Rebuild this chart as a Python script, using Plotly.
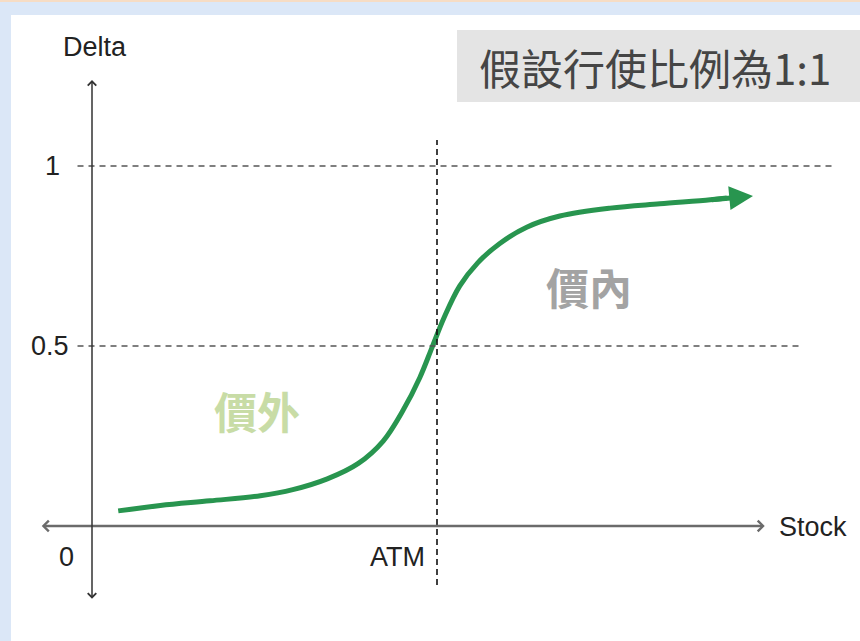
import plotly.graph_objects as go

# ---- data ----
stock = [3.8, 9.9, 17.1, 24.4, 29.1, 34.1, 38.6, 42.2, 45.1, 47.5, 49.3, 51.0, 53.3, 55.9,
         59.1, 63.0, 67.8, 75.1, 82.3, 89.6, 92.0, 95.8]
delta = [0.042, 0.057, 0.070, 0.084, 0.101, 0.131, 0.174, 0.236, 0.322, 0.412, 0.497, 0.578, 0.667, 0.731,
         0.785, 0.830, 0.861, 0.883, 0.895, 0.906, 0.911, 0.917]
atm = 50.0
ref_levels = [1.0, 0.5]
tick_labels = ["1", "0.5"]
title_text = "假設行使比例為1:1"
itm_text = "價內"
otm_text = "價外"

GREEN = "#28954f"
LATIN = "Liberation Sans, Arial, sans-serif"
CJK = "Noto Sans CJK TC, Noto Sans CJK SC, sans-serif"

fig = go.Figure()

# curve (the arrowhead covers the final segment)
fig.add_trace(go.Scatter(x=stock[:-1], y=delta[:-1], mode="lines",
                         line=dict(color=GREEN, width=5, shape="spline", smoothing=1.0),
                         hoverinfo="skip", showlegend=False))

shapes = []
# white inner panel over light-blue page
shapes.append(dict(type="rect", xref="paper", yref="paper", x0=11/860, x1=1, y0=0, y1=1-15/641,
                   fillcolor="white", line=dict(width=0), layer="below"))
shapes.append(dict(type="rect", xref="paper", yref="paper", x0=0, x1=1, y0=1-2/641, y1=1,
                   fillcolor="#f6dcc4", line=dict(width=0), layer="below"))
# title box
shapes.append(dict(type="rect", xref="paper", yref="paper", x0=457/860, x1=1, y0=1-102/641, y1=1-30/641,
                   fillcolor="#e4e4e4", line=dict(width=0), layer="below"))
# dashed reference levels
ends = [107.7, 103.0]
for lv, xe in zip(ref_levels, ends):
    shapes.append(dict(type="line", xref="x", yref="y", x0=-2.1, x1=xe, y0=lv, y1=lv,
                       line=dict(color="#555555", width=1.6, dash="6px,5px")))
# ATM dashed vertical
shapes.append(dict(type="line", xref="x", yref="y", x0=atm, x1=atm, y0=-0.164, y1=1.072,
                   line=dict(color="#111111", width=1.6, dash="6px,4px")))

annotations = []
# axes with arrowheads at both ends
annotations.append(dict(x=97.5, y=0, ax=-7.5, ay=0, xref="x", yref="y", axref="x", ayref="y",
                        text="", showarrow=True, arrowhead=4, startarrowhead=4, arrowside="end+start",
                        arrowwidth=2.6, arrowsize=0.8, startarrowsize=0.8, arrowcolor="#6b6b6b"))
annotations.append(dict(x=0, y=1.239, ax=0, ay=-0.206, xref="x", yref="y", axref="x", ayref="y",
                        text="", showarrow=True, arrowhead=4, startarrowhead=4, arrowside="end+start",
                        arrowwidth=1.5, arrowsize=1.1, startarrowsize=1.1, arrowcolor="#333333"))
# curve arrowhead
annotations.append(dict(x=stock[-1], y=delta[-1], ax=stock[-3], ay=delta[-3], xref="x", yref="y",
                        axref="x", ayref="y", text="", showarrow=True, arrowhead=2, arrowwidth=5,
                        arrowsize=0.95, arrowcolor=GREEN))

lab = dict(family=LATIN, size=27, color="#222222")
annotations += [
    dict(x=0.43, y=1.331, text="Delta", showarrow=False, font=lab, xanchor="center", yanchor="middle"),
    dict(x=99.3, y=-0.003, text="Stock", showarrow=False, font=lab, xanchor="left", yanchor="middle"),
    dict(x=48.5, y=-0.086, text="ATM", showarrow=False, font=lab, xanchor="right", yanchor="middle"),
    dict(x=-2.3, y=-0.086, text="0", showarrow=False, font=lab, xanchor="right", yanchor="middle"),
]
label_x = [-4.4, -3.0]
for lv, t, lx in zip(ref_levels, tick_labels, label_x):
    annotations.append(dict(x=lx, y=lv, text=t, showarrow=False, font=lab, xanchor="right", yanchor="middle"))

annotations.append(dict(xref="paper", yref="paper", x=655/860, y=1-66/641, text=title_text, showarrow=False,
                        font=dict(family=CJK, size=42, color="#454545"), xanchor="center", yanchor="middle"))
annotations.append(dict(x=72.0, y=0.667, text="<b>" + itm_text + "</b>", showarrow=False,
                        font=dict(family=CJK, size=43, color="#a3a3a3"), xanchor="center", yanchor="middle"))
annotations.append(dict(x=23.9, y=0.322, text="<b>" + otm_text + "</b>", showarrow=False,
                        font=dict(family=CJK, size=43, color="#c8dca6"), xanchor="center", yanchor="middle"))

fig.update_layout(
    width=860, height=641,
    margin=dict(l=0, r=0, t=0, b=0),
    paper_bgcolor="#dbe7f7",
    plot_bgcolor="rgba(0,0,0,0)",
    xaxis=dict(range=[-13.333, 111.304], visible=False, fixedrange=True),
    yaxis=dict(range=[-0.3194, 1.4611], visible=False, fixedrange=True),
    shapes=shapes,
    annotations=annotations,
    showlegend=False,
)

fig.write_html("out.html", config={"displayModeBar": False},
               post_script="document.body.style.margin='0';document.body.style.overflow='hidden';")
